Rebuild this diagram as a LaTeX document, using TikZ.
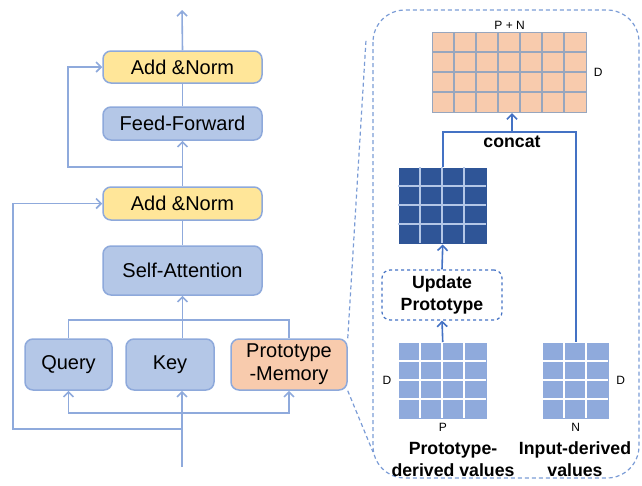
\documentclass[tikz,border=0pt]{standalone}
\usepackage{fontspec}
\setmainfont{Liberation Sans}
\usetikzlibrary{arrows.meta, positioning, calc}
\definecolor{boxblue}{HTML}{B4C7E7}
\definecolor{boxedge}{HTML}{8EA9DB}
\definecolor{normyellow}{HTML}{FFE699}
\definecolor{memorange}{HTML}{F8CBAD}
\definecolor{flowblue}{HTML}{8FAADC}
\definecolor{catblue}{HTML}{4472C4}
\definecolor{deepblue}{HTML}{2F5597}
\definecolor{paleline}{HTML}{B4C7E7}
\definecolor{gridgray}{HTML}{97A6BE}
\definecolor{zoomblue}{HTML}{7B9CD6}
\newcommand{\boxfont}{\fontsize{20}{23}\selectfont}
\newcommand{\boldfont}{\fontsize{17.7}{22}\selectfont\bfseries}
\newcommand{\dimfont}{\fontsize{12}{14}\selectfont}
% value matrix: name, x, y, cols, rows, cell w, cell h, node style, line style
\newcommand{\valgrid}[9]{%
  \node[#8, inner sep=0, anchor=north west, minimum width=#4*#6, minimum height=#5*#7] (#1) at (#2,#3) {};
  \foreach \i in {1,...,#4} {\ifnum\i<#4 \draw[#9] (#2+\i*#6,#3) -- ++(0,#5*#7);\fi}
  \foreach \j in {1,...,#5} {\ifnum\j<#5 \draw[#9] (#2,#3+\j*#7) -- ++(#4*#6,0);\fi}
}

\begin{document}
\begin{tikzpicture}[x=1pt, y=-1pt, line width=1.5pt, >={Straight Barb[length=5pt,width=10pt]}]
  \useasboundingbox (0,0) rectangle (642,485);
  \tikzset{
    layer/.style={draw=boxedge, fill=boxblue, rounded corners=8pt, line width=1.5pt, font=\boxfont, inner sep=0, align=center},
    norm/.style={layer, fill=normyellow},
    flow/.style={draw=flowblue, line width=1.6pt},
    rflow/.style={draw=catblue, line width=1.6pt},
    zoomline/.style={draw=zoomblue, line width=1.2pt, dash pattern=on 4pt off 3pt},
    dimlabel/.style={font=\dimfont, inner sep=1pt},
    boldlabel/.style={font=\boldfont, align=center, inner sep=0}
  }

  % encoder block
  \node[norm, minimum width=159, minimum height=32] (addnorm2) at (182.5,67) {Add \&Norm};
  \node[layer, minimum width=159, minimum height=33] (ff) at (182.5,123.5) {Feed-Forward};
  \node[norm, minimum width=159, minimum height=33] (addnorm1) at (182.5,203.5) {Add \&Norm};
  \node[layer, minimum width=159, minimum height=49] (selfatt) at (182.5,270.5) {Self-Attention};
  \node[layer, minimum width=87, minimum height=51] (query) at (68.5,364.5) {Query};
  \node[layer, minimum width=88, minimum height=51] (key) at (170,364.5) {Key};
  \node[layer, fill=memorange, minimum width=116, minimum height=51] (protomem) at (289,364.5) {Prototype\\-Memory};

  \coordinate (out) at (182,10);
  \coordinate (inp) at (182,467);
  \coordinate (res1) at (182,429);
  \coordinate (skip1) at (13,429);
  \coordinate (res2) at (182,167);
  \coordinate (skip2) at (68,167);
  \coordinate (split) at (182,413);
  \coordinate (merge) at (182,320);

  \draw[flow,->] (addnorm2.north) -- (out);
  \draw[flow] (ff.north) -- (addnorm2.south);
  \draw[flow,->] (addnorm1.north) -- (ff.south);
  \draw[flow] (selfatt.south |- addnorm1.south) -- (selfatt.north);
  \draw[flow,->] (res2) -- (skip2) |- (addnorm2.west);
  \draw[flow,->] (res1) -- (skip1) |- (addnorm1.west);
  \draw[flow,->] (inp) -- (inp |- key.south);
  \draw[flow,->] (split) -| (query.south);
  \draw[flow,->] (split) -| (protomem.south);
  \draw[flow] (query.north) |- (merge) -| (protomem.north);
  \draw[flow,->] (selfatt.south |- key.north) -- (selfatt.south);

  % zoomed memory panel
  \draw[zoomline, rounded corners=32pt] (373,10) rectangle (639,478);
  \coordinate (zt) at (366,40);
  \coordinate (zb) at (373,452);
  \draw[zoomline] (protomem.north east) -- (zt);
  \draw[zoomline] (protomem.south east) -- (zb);

  \valgrid{concatv}{432}{32}{7}{4}{22}{20}{fill=memorange, draw=gridgray, line width=1.2pt}{gridgray, line width=1.2pt}
  \valgrid{updv}{398}{167}{4}{4}{22}{19}{fill=deepblue}{paleline, line width=1.3pt}
  \valgrid{protov}{398}{342}{4}{4}{22}{19}{fill=flowblue}{white, line width=1.3pt}
  \valgrid{inputv}{542}{342}{3}{4}{22}{19}{fill=flowblue}{white, line width=1.3pt}

  \node[dimlabel, above=1pt of concatv] (pn) {P + N};
  \node[dimlabel, right=5pt of concatv] (dcat) {D};
  \node[dimlabel, left=5pt of protov] (dproto) {D};
  \node[dimlabel, right=5pt of inputv] (dinput) {D};
  \node[dimlabel, below=2pt of protov] (pdim) {P};
  \node[dimlabel, below=2pt of inputv] (ndim) {N};

  \node[boldlabel, draw=catblue, dashed, line width=1.2pt, rounded corners=8pt, minimum width=120, minimum height=50] (upd) at (442,295) {Update\\Prototype};
  \node[boldlabel] (protolbl) at (453,459) {Prototype-\\derived values};
  \node[boldlabel] (inputlbl) at (575,459) {Input-derived\\values};

  \coordinate (cjoin) at (512,132);
  \draw[rflow,->] (protov.north) -- (upd.south);
  \draw[rflow,->] (upd.north) -- (updv.south);
  \draw[rflow] (updv.north) |- (cjoin) -| (inputv.north);
  \draw[rflow,->] (cjoin) -- (cjoin |- concatv.south);
  \node[boldlabel, below=3pt of cjoin] (catlbl) {concat};
\end{tikzpicture}
\end{document}
